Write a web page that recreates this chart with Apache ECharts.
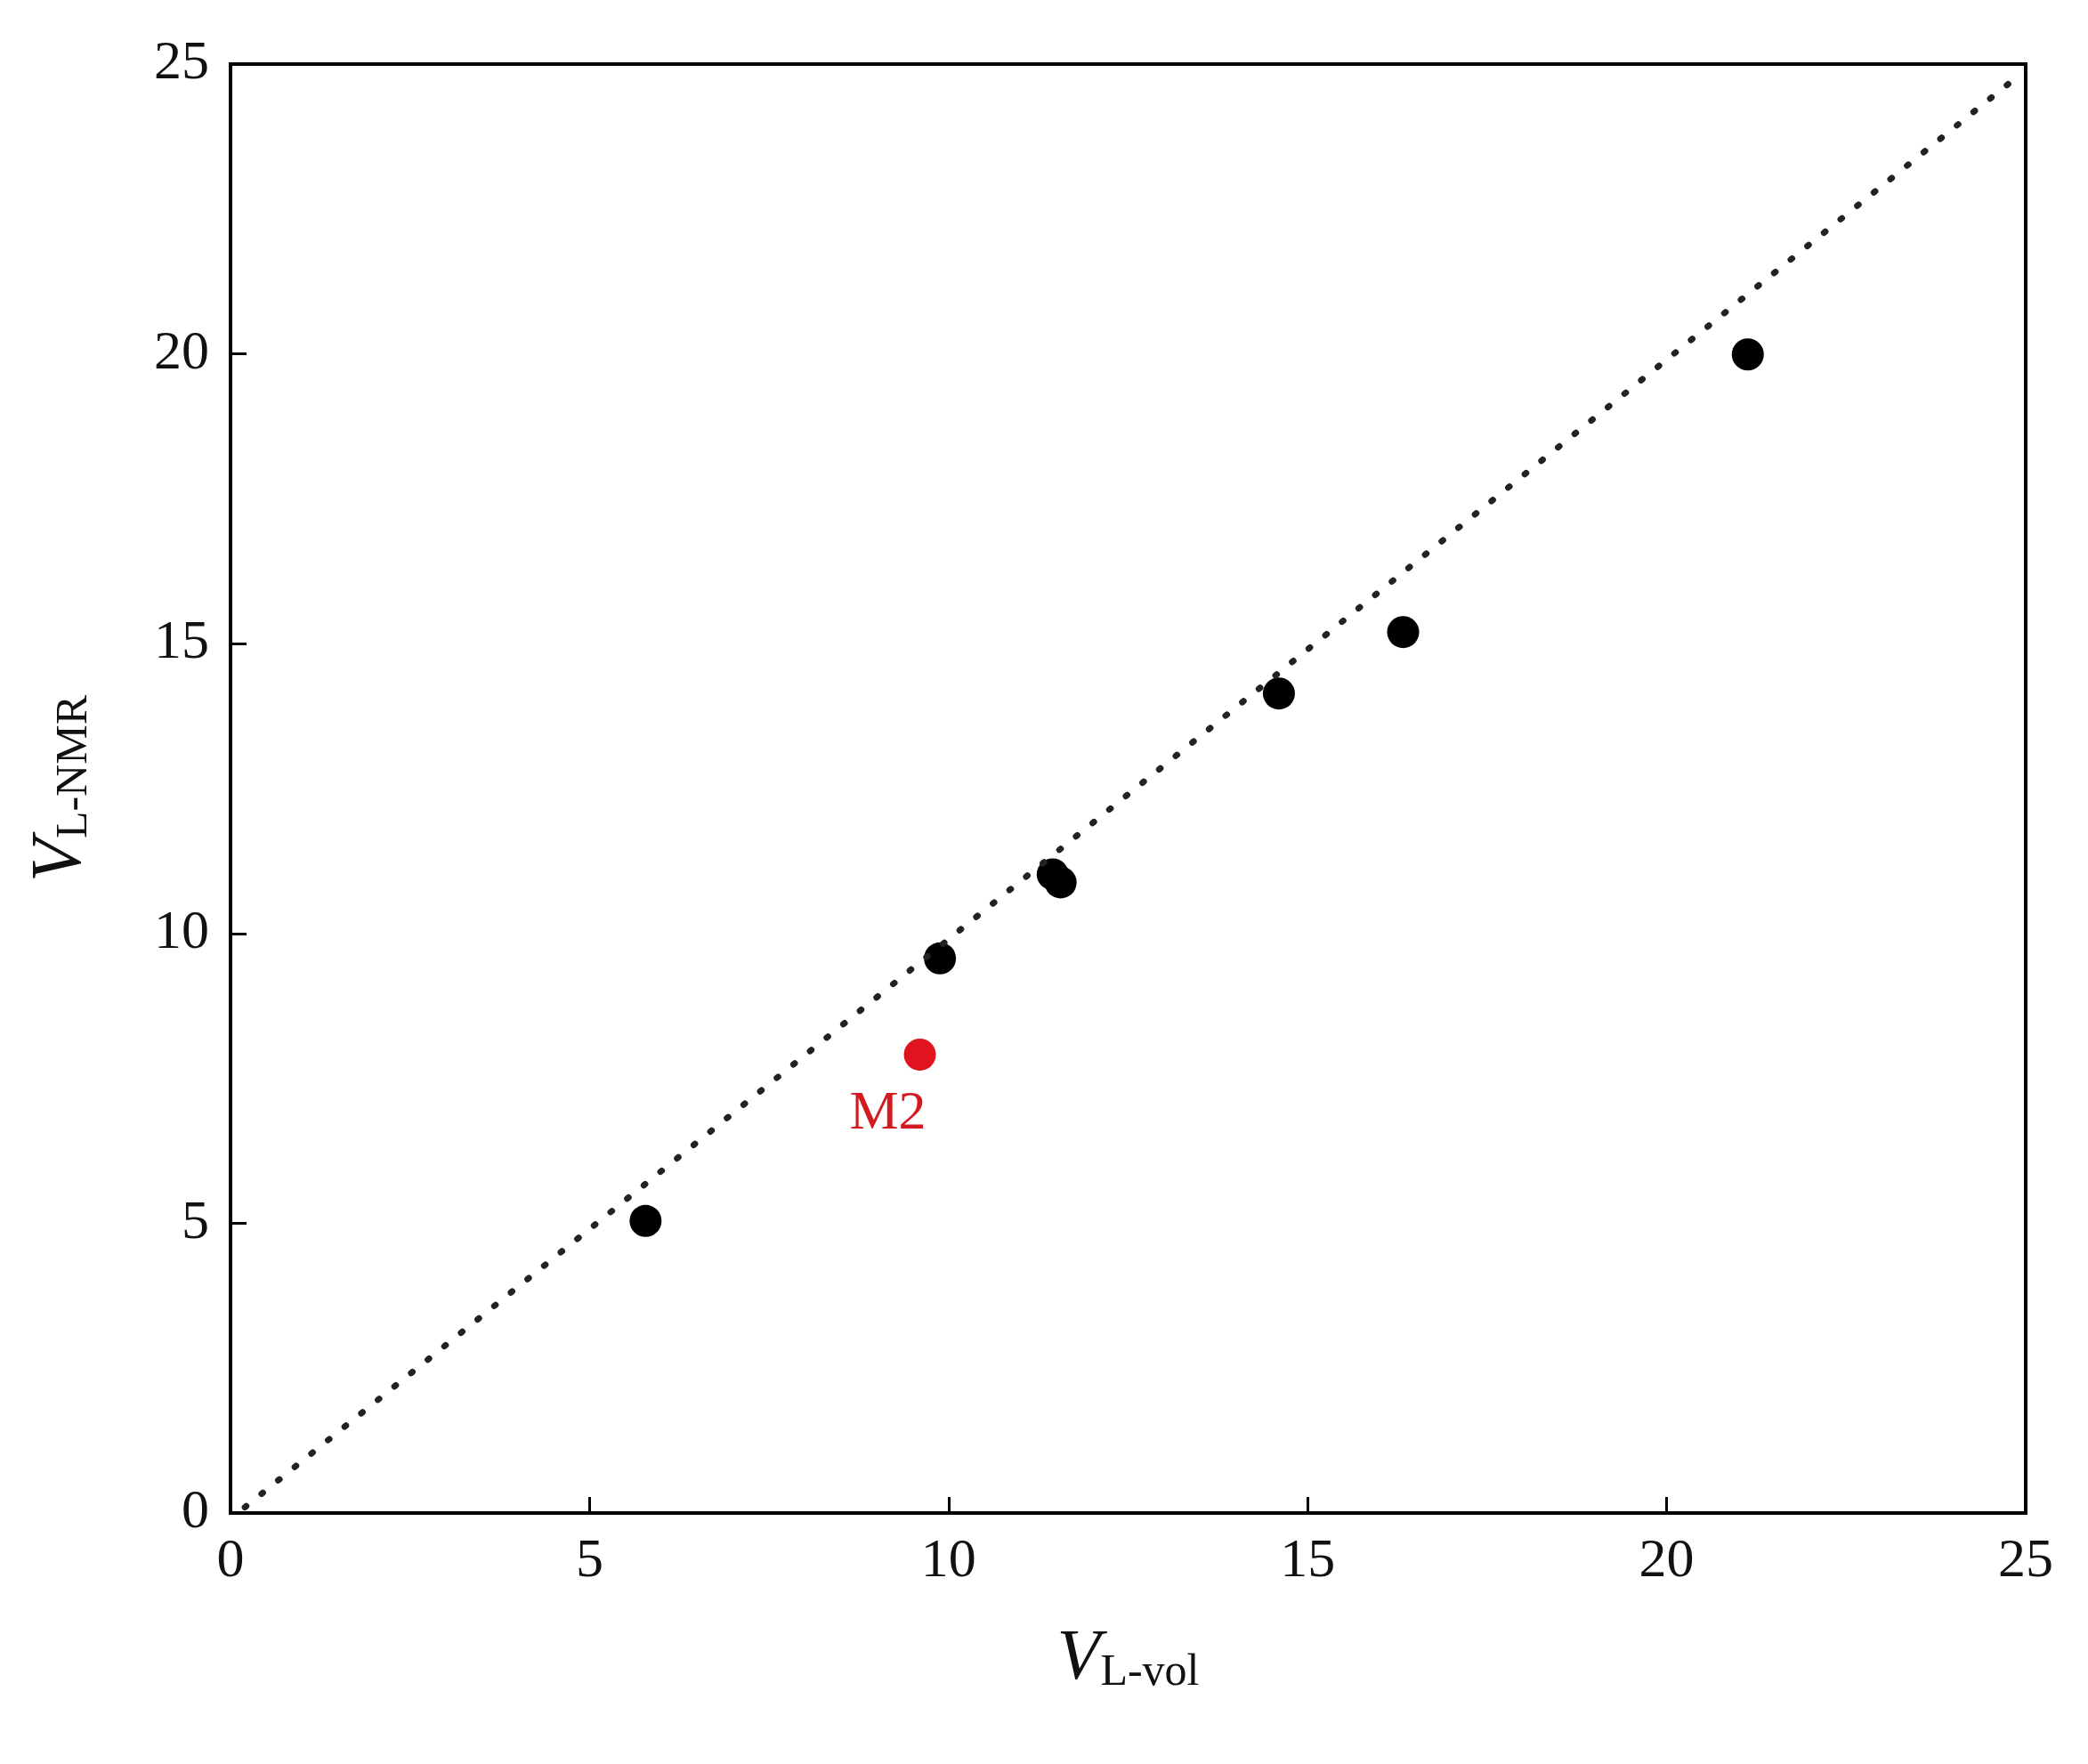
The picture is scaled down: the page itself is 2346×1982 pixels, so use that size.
<!DOCTYPE html>
<html>
<head>
<meta charset="utf-8">
<script src="https://cdn.jsdelivr.net/npm/echarts@6/dist/echarts.min.js"></script>
<style>html,body{margin:0;padding:0;background:#fff}#chart{width:2346px;height:1982px}</style>
</head>
<body>
<div id="chart"></div>
<script>
var volValues = [5.78, 9.88, 11.45, 11.56, 14.6, 16.33, 21.13];
var nmrValues = [5.04, 9.57, 11.02, 10.88, 14.14, 15.2, 19.99];
var outlierPoint = [9.6, 7.91];
var outlierLabel = 'M2';
var fitLine = [[0.2, 0.1], [24.8, 24.7]];

var blackPoints = volValues.map(function (v, i) { return [v, nmrValues[i]]; });
var font = 'Liberation Serif';

var chart = echarts.init(document.getElementById('chart'));
chart.setOption({
    animation: false,
    grid: { left: 259, right: 70, top: 72, bottom: 282 },
    xAxis: {
        type: 'value', min: 0, max: 25, interval: 5,
        name: '{v|V}{s|L-vol}', nameLocation: 'middle', nameGap: 125,
        nameTextStyle: { rich: {
            v: { fontFamily: font, fontStyle: 'italic', fontSize: 80, color: '#111' },
            s: { fontFamily: font, fontSize: 50, color: '#111', padding: [30, 0, 0, 0] }
        } },
        axisLine: { show: true, lineStyle: { color: '#000', width: 4 } },
        axisTick: { show: true, inside: true, length: 18, lineStyle: { color: '#000', width: 3 } },
        axisLabel: { fontFamily: font, fontSize: 62, color: '#111', margin: 24 },
        splitLine: { show: false }
    },
    yAxis: {
        type: 'value', min: 0, max: 25, interval: 5,
        name: '{v|V}{s|L-NMR}', nameLocation: 'middle', nameGap: 150, nameRotate: 90,
        nameTextStyle: { rich: {
            v: { fontFamily: font, fontStyle: 'italic', fontSize: 80, color: '#111' },
            s: { fontFamily: font, fontSize: 50, color: '#111', padding: [30, 0, 0, 0] }
        } },
        axisLine: { show: true, lineStyle: { color: '#000', width: 4 } },
        axisTick: { show: true, inside: true, length: 18, lineStyle: { color: '#000', width: 3 } },
        axisLabel: { fontFamily: font, fontSize: 62, color: '#111', margin: 24 },
        splitLine: { show: false }
    },
    series: [
        {
            type: 'line', data: fitLine, symbol: 'none',
            lineStyle: { color: '#222', width: 7, type: [2, 22], cap: 'round' }
        },
        {
            type: 'scatter', data: blackPoints, symbolSize: 36,
            itemStyle: { color: '#000', opacity: 1 }
        },
        {
            type: 'scatter', data: [outlierPoint], symbolSize: 36,
            itemStyle: { color: '#e0141e', opacity: 1 },
            label: {
                show: true, formatter: outlierLabel, position: 'bottom', distance: 18,
                offset: [-36, 0],
                fontFamily: font, fontSize: 62, color: '#d21a20'
            }
        }
    ]
});
// close the frame on top and right
chart.setOption({
    graphic: [{
        type: 'rect', shape: { x: 259, y: 72, width: 2346 - 259 - 70, height: 1982 - 72 - 282 },
        style: { fill: 'none', stroke: '#000', lineWidth: 4 }, z: 10
    }]
});
</script>
</body>
</html>
